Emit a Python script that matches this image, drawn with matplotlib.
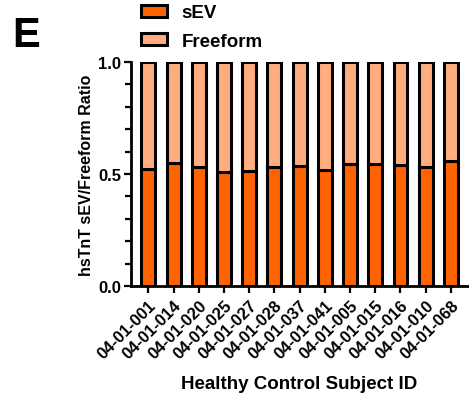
import matplotlib
matplotlib.use("Agg")
import matplotlib.pyplot as plt
from matplotlib.patches import Patch
from matplotlib.ticker import MultipleLocator
import numpy as np

plt.rcParams['font.family'] = ['Liberation Sans', 'DejaVu Sans']
plt.rcParams['font.weight'] = 'bold'

subjects = ["04-01-001", "04-01-014", "04-01-020", "04-01-025", "04-01-027",
            "04-01-028", "04-01-037", "04-01-041", "04-01-005", "04-01-015",
            "04-01-016", "04-01-010", "04-01-068"]
sev = [0.522, 0.548, 0.530, 0.510, 0.515, 0.533, 0.537, 0.519, 0.543,
       0.543, 0.540, 0.530, 0.557]
freeform = [1 - v for v in sev]

sev_color = "#FF6200"
free_color = "#FFAD7F"

fig = plt.figure(figsize=(4.69, 4.02), dpi=100)
ax = fig.add_axes([131 / 469, 1 - 287 / 402, 337 / 469, 224 / 402])

x = np.arange(len(subjects))
ax.bar(x, sev, width=0.55, color=sev_color, edgecolor="black", linewidth=2.2, zorder=3)
ax.bar(x, freeform, bottom=sev, width=0.55, color=free_color, edgecolor="black",
       linewidth=2.2, zorder=3)

ax.set_xlim(-0.69, 12.68)
ax.set_ylim(0, 1.0)
ax.yaxis.set_minor_locator(MultipleLocator(0.1))
ax.set_yticks([0.0, 0.5, 1.0])
ax.set_yticklabels(["0.0", "0.5", "1.0"], fontsize=12, fontweight="bold")
ax.set_xticks(x)
ax.set_xticklabels(subjects, rotation=45, ha="right", rotation_mode="anchor",
                   fontsize=12, fontweight="bold")

for side in ("top", "right"):
    ax.spines[side].set_visible(False)
for side in ("left", "bottom"):
    ax.spines[side].set_linewidth(2)
ax.tick_params(axis="both", which="major", width=1.6, length=5, direction="out")
ax.tick_params(axis="y", which="minor", width=1.6, length=4, direction="out")
ax.tick_params(axis="x", pad=3)
ax.tick_params(axis="y", pad=2)

ax.set_ylabel("hsTnT sEV/Freeform Ratio", fontsize=11.5, fontweight="bold", labelpad=3)
ax.set_xlabel("Healthy Control Subject ID", fontsize=13.5, fontweight="bold", labelpad=10)

handles = [Patch(facecolor=sev_color, edgecolor="black", linewidth=2.2, label="sEV"),
           Patch(facecolor=free_color, edgecolor="black", linewidth=2.2, label="Freeform")]
fig.legend(handles=handles, loc="upper left", bbox_to_anchor=(133 / 469, 1.005),
           frameon=False, prop={"size": 13.5, "weight": "bold"},
           handlelength=1.4, handleheight=0.6, labelspacing=0.6, handletextpad=0.8,
           borderaxespad=0.0)

fig.text(26 / 469, 1 - 36 / 402, "E", fontsize=30, fontweight="bold",
         ha="center", va="center")

fig.savefig("out.png", dpi=100)
